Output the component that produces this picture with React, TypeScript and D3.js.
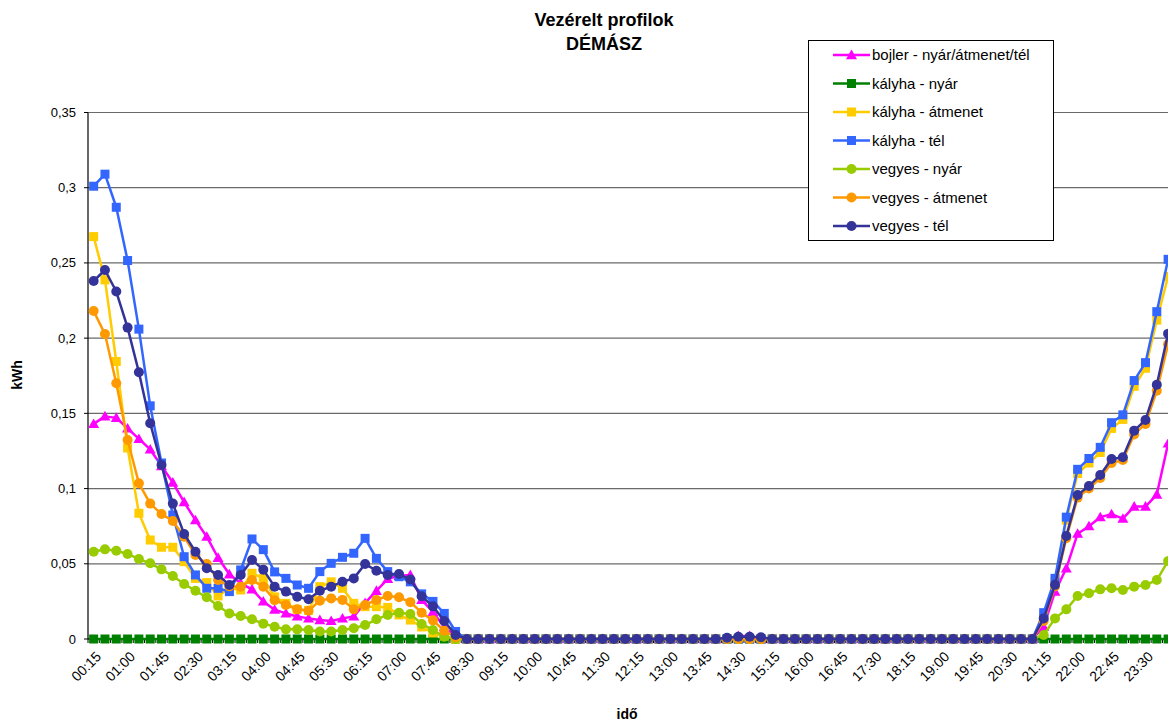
import React from "react";
import * as d3 from "d3";

const times = [
  "00:15","00:30","00:45","01:00","01:15","01:30","01:45","02:00","02:15","02:30","02:45","03:00",
  "03:15","03:30","03:45","04:00","04:15","04:30","04:45","05:00","05:15","05:30","05:45","06:00",
  "06:15","06:30","06:45","07:00","07:15","07:30","07:45","08:00","08:15","08:30","08:45","09:00",
  "09:15","09:30","09:45","10:00","10:15","10:30","10:45","11:00","11:15","11:30","11:45","12:00",
  "12:15","12:30","12:45","13:00","13:15","13:30","13:45","14:00","14:15","14:30","14:45","15:00",
  "15:15","15:30","15:45","16:00","16:15","16:30","16:45","17:00","17:15","17:30","17:45","18:00",
  "18:15","18:30","18:45","19:00","19:15","19:30","19:45","20:00","20:15","20:30","20:45","21:00",
  "21:15","21:30","21:45","22:00","22:15","22:30","22:45","23:00","23:15","23:30","23:45","24:00",
];

const yTicks = [0, 0.05, 0.1, 0.15, 0.2, 0.25, 0.3, 0.35];
const yTickLabels = ["0", "0,05", "0,1", "0,15", "0,2", "0,25", "0,3", "0,35"];

const bojler = [
  0.143, 0.148, 0.147, 0.140, 0.133, 0.126, 0.115, 0.104, 0.091, 0.079, 0.068, 0.054,
  0.043, 0.037, 0.033, 0.025, 0.0195, 0.017, 0.015, 0.0137, 0.0126, 0.012, 0.0137, 0.015,
  0.024, 0.032, 0.040, 0.042, 0.0425, 0.026, 0.018, 0.008, 0.002, 0, 0, 0,
  0, 0, 0, 0, 0, 0, 0, 0, 0, 0, 0, 0,
  0, 0, 0, 0, 0, 0, 0, 0, 0, 0.002, 0.002, 0,
  0, 0, 0, 0, 0, 0, 0, 0, 0, 0, 0, 0,
  0, 0, 0, 0, 0, 0, 0, 0, 0, 0, 0, 0,
  0.008, 0.0315, 0.047, 0.070, 0.075, 0.081, 0.083, 0.080, 0.088, 0.088, 0.096, 0.130,
];

const kalyhaNyar = [
  0, 0, 0, 0, 0, 0, 0, 0, 0, 0, 0, 0,
  0, 0, 0, 0, 0, 0, 0, 0, 0, 0, 0, 0,
  0, 0, 0, 0, 0, 0, 0, 0, 0, 0, 0, 0,
  0, 0, 0, 0, 0, 0, 0, 0, 0, 0, 0, 0,
  0, 0, 0, 0, 0, 0, 0, 0, 0, 0, 0, 0,
  0, 0, 0, 0, 0, 0, 0, 0, 0, 0, 0, 0,
  0, 0, 0, 0, 0, 0, 0, 0, 0, 0, 0, 0,
  0, 0, 0, 0, 0, 0, 0, 0, 0, 0, 0, 0,
];

const kalyhaAtmenet = [
  0.2675, 0.2387, 0.1845, 0.127, 0.0836, 0.0658, 0.061, 0.061, 0.0514, 0.0403, 0.0375, 0.0286,
  0.0337, 0.0326, 0.0437, 0.0403, 0.028, 0.0237, 0.0197, 0.019, 0.0348, 0.038, 0.0337, 0.0237,
  0.0215, 0.0215, 0.021, 0.016, 0.0126, 0.008, 0.004, 0.002, 0, 0, 0, 0,
  0, 0, 0, 0, 0, 0, 0, 0, 0, 0, 0, 0,
  0, 0, 0, 0, 0, 0, 0, 0, 0, 0, 0, 0,
  0, 0, 0, 0, 0, 0, 0, 0, 0, 0, 0, 0,
  0, 0, 0, 0, 0, 0, 0, 0, 0, 0, 0, 0,
  0.016, 0.038, 0.079, 0.110, 0.117, 0.124, 0.140, 0.146, 0.168, 0.180, 0.212, 0.241,
];

const kalyhaTel = [
  0.301, 0.309, 0.287, 0.2516, 0.206, 0.155, 0.117, 0.0824, 0.0547, 0.0426, 0.0337, 0.0337,
  0.0315, 0.0459, 0.0665, 0.0594, 0.0446, 0.0403, 0.0359, 0.0337, 0.0448, 0.0503, 0.0543, 0.057,
  0.0669, 0.0536, 0.0448, 0.0414, 0.038, 0.030, 0.025, 0.017, 0.005, 0, 0, 0,
  0, 0, 0, 0, 0, 0, 0, 0, 0, 0, 0, 0,
  0, 0, 0, 0, 0, 0, 0, 0, 0, 0, 0, 0,
  0, 0, 0, 0, 0, 0, 0, 0, 0, 0, 0, 0,
  0, 0, 0, 0, 0, 0, 0, 0, 0, 0, 0, 0,
  0.0175, 0.0403, 0.081, 0.1128, 0.120, 0.1274, 0.1438, 0.149, 0.1718, 0.1837, 0.2176, 0.2524,
];

const vegyesNyar = [
  0.058, 0.0596, 0.0587, 0.0565, 0.0532, 0.0503, 0.0463, 0.0419, 0.0366, 0.0321, 0.0277, 0.0219,
  0.017, 0.0153, 0.0131, 0.0102, 0.0082, 0.0064, 0.0064, 0.006, 0.005, 0.005, 0.006, 0.0071,
  0.0093, 0.0131, 0.016, 0.0175, 0.0166, 0.010, 0.006, 0.0015, 0, 0, 0, 0,
  0, 0, 0, 0, 0, 0, 0, 0, 0, 0, 0, 0,
  0, 0, 0, 0, 0, 0, 0, 0, 0, 0, 0, 0,
  0, 0, 0, 0, 0, 0, 0, 0, 0, 0, 0, 0,
  0, 0, 0, 0, 0, 0, 0, 0, 0, 0, 0, 0,
  0.0027, 0.0137, 0.0197, 0.0286, 0.0304, 0.033, 0.0337, 0.0326, 0.0348, 0.0359, 0.0392, 0.0519,
];

const vegyesAtmenet = [
  0.218, 0.2027, 0.170, 0.1323, 0.1035, 0.090, 0.0831, 0.0785, 0.068, 0.0558, 0.0499, 0.0392,
  0.035, 0.0348, 0.0392, 0.0348, 0.0258, 0.0226, 0.0197, 0.0188, 0.0255, 0.027, 0.026, 0.0197,
  0.0226, 0.026, 0.0286, 0.0277, 0.0245, 0.0175, 0.0124, 0.0055, 0.0012, 0, 0, 0,
  0, 0, 0, 0, 0, 0, 0, 0, 0, 0, 0, 0,
  0, 0, 0, 0, 0, 0, 0, 0, 0, 0, 0, 0,
  0, 0, 0, 0, 0, 0, 0, 0, 0, 0, 0, 0,
  0, 0, 0, 0, 0, 0, 0, 0, 0, 0, 0, 0,
  0.012, 0.035, 0.067, 0.094, 0.100, 0.107, 0.117, 0.119, 0.136, 0.143, 0.165, 0.196,
];

const vegyesTel = [
  0.238, 0.2453, 0.231, 0.207, 0.1773, 0.1434, 0.1157, 0.090, 0.0698, 0.058, 0.047, 0.0426,
  0.0359, 0.0426, 0.0525, 0.0461, 0.0348, 0.0315, 0.0281, 0.0264, 0.0321, 0.0348, 0.0381, 0.0403,
  0.0499, 0.0454, 0.0426, 0.0432, 0.0395, 0.0284, 0.0217, 0.012, 0.0027, 0, 0, 0,
  0, 0, 0, 0, 0, 0, 0, 0, 0, 0, 0, 0,
  0, 0, 0, 0, 0, 0, 0, 0, 0.0008, 0.0015, 0.0015, 0.0012,
  0, 0, 0, 0, 0, 0, 0, 0, 0, 0, 0, 0,
  0, 0, 0, 0, 0, 0, 0, 0, 0, 0, 0, 0,
  0.0137, 0.036, 0.0685, 0.0957, 0.1017, 0.109, 0.1197, 0.1208, 0.1385, 0.1456, 0.169, 0.203,
];

const seriesNames = [
  "bojler - nyár/átmenet/tél",
  "kályha - nyár",
  "kályha - átmenet",
  "kályha - tél",
  "vegyes - nyár",
  "vegyes - átmenet",
  "vegyes - tél",
];
const seriesValues = [bojler, kalyhaNyar, kalyhaAtmenet, kalyhaTel, vegyesNyar, vegyesAtmenet, vegyesTel];
const seriesColors = ["#FF00FF", "#008000", "#FFCC00", "#3366FF", "#99CC00", "#FF9900", "#333399"];
const seriesMarkers = ["triangle", "square", "square", "square", "circle", "circle", "circle"];

const FONT = "Arial, 'Liberation Sans', Helvetica, sans-serif";

function Marker({ type, x, y, color }: { type: string; x: number; y: number; color: string }) {
  if (type === "square") {
    return <rect x={x - 4.5} y={y - 4.5} width={9} height={9} fill={color} />;
  }
  if (type === "circle") {
    return <circle cx={x} cy={y} r={5} fill={color} />;
  }
  const s = 5.5;
  return (
    <path
      d={`M${x},${y - s} L${x + s},${y + s * 0.75} L${x - s},${y + s * 0.75} Z`}
      fill={color}
    />
  );
}

export default function App() {
  const W = 1168;
  const H = 726;
  const step = 11.31;
  const plotLeft = 88;
  const x = d3
    .scalePoint<string>()
    .domain(times)
    .range([plotLeft + step / 2, plotLeft + step / 2 + step * (times.length - 1)]);
  const y = d3.scaleLinear().domain([0, 0.35]).range([639, 112.5]);
  const plotRight = plotLeft + step * times.length;

  const line = d3
    .line<number>()
    .x((_, i) => x(times[i]) as number)
    .y((d) => y(d));

  const legendX = 808.5;
  const legendY = 40.5;

  return (
    <svg
      width={W}
      height={H}
      style={{ position: "absolute", left: 0, top: 0, background: "#fff" }}
      fontFamily={FONT}
    >
      <rect x={0} y={0} width={W} height={H} fill="#fff" />
      {/* gridlines */}
      {yTicks.map((t) => (
        <line key={"g" + t} x1={plotLeft} x2={plotRight} y1={y(t)} y2={y(t)} stroke="#6a6a6a" strokeWidth={1.2} />
      ))}
      {/* y axis */}
      <line x1={plotLeft} x2={plotLeft} y1={y(0.35)} y2={y(0)} stroke="#000" strokeWidth={1.2} />
      {yTicks.map((t, i) => (
        <g key={"yt" + t}>
          <line x1={plotLeft - 4} x2={plotLeft} y1={y(t)} y2={y(t)} stroke="#000" />
          <text x={plotLeft - 12} y={y(t)} dy="0.35em" textAnchor="end" fontSize={13} fill="#000">
            {yTickLabels[i]}
          </text>
        </g>
      ))}
      {/* x axis */}
      <line x1={plotLeft} x2={plotRight} y1={y(0)} y2={y(0)} stroke="#000" strokeWidth={1.2} />
      {times.map((t, i) => {
        const bx = plotLeft + step * i;
        return <line key={"xt" + t} x1={bx} x2={bx} y1={y(0)} y2={y(0) + 4} stroke="#000" />;
      })}
      {times.map((t, i) =>
        i % 3 === 0 ? (
          <text
            key={"xl" + t}
            transform={`translate(${(x(t) as number) + 5},${y(0) + 15}) rotate(-45)`}
            textAnchor="end"
            fontSize={14}
            fill="#000"
            dy="0.35em"
          >
            {t}
          </text>
        ) : null
      )}
      {/* series */}
      {seriesValues.map((vals, si) => (
        <g key={"s" + si}>
          <path d={line(vals) || ""} fill="none" stroke={seriesColors[si]} strokeWidth={2.5} strokeLinejoin="round" />
          {vals.map((v, i) => (
            <Marker key={i} type={seriesMarkers[si]} x={x(times[i]) as number} y={y(v)} color={seriesColors[si]} />
          ))}
        </g>
      ))}
      {/* titles */}
      <text x={604} y={26} textAnchor="middle" fontSize={18} fontWeight="bold" fill="#000">
        Vezérelt profilok
      </text>
      <text x={604} y={50} textAnchor="middle" fontSize={18} fontWeight="bold" fill="#000">
        DÉMÁSZ
      </text>
      <text transform="translate(22,375) rotate(-90)" textAnchor="middle" fontSize={14} fontWeight="bold" fill="#000">
        kWh
      </text>
      <text x={627} y={719} textAnchor="middle" fontSize={14} fontWeight="bold" fill="#000">
        idő
      </text>
      {/* legend */}
      <rect x={legendX} y={legendY} width={245} height={200} fill="#fff" stroke="#000" strokeWidth={1} />
      {seriesNames.map((name, i) => {
        const ly = 55 + i * 28.5;
        return (
          <g key={"l" + i}>
            <line x1={833} x2={870} y1={ly} y2={ly} stroke={seriesColors[i]} strokeWidth={2.5} />
            <Marker type={seriesMarkers[i]} x={851.5} y={ly} color={seriesColors[i]} />
            <text x={872} y={ly} dy="0.35em" fontSize={15} fill="#000">
              {name}
            </text>
          </g>
        );
      })}
    </svg>
  );
}
